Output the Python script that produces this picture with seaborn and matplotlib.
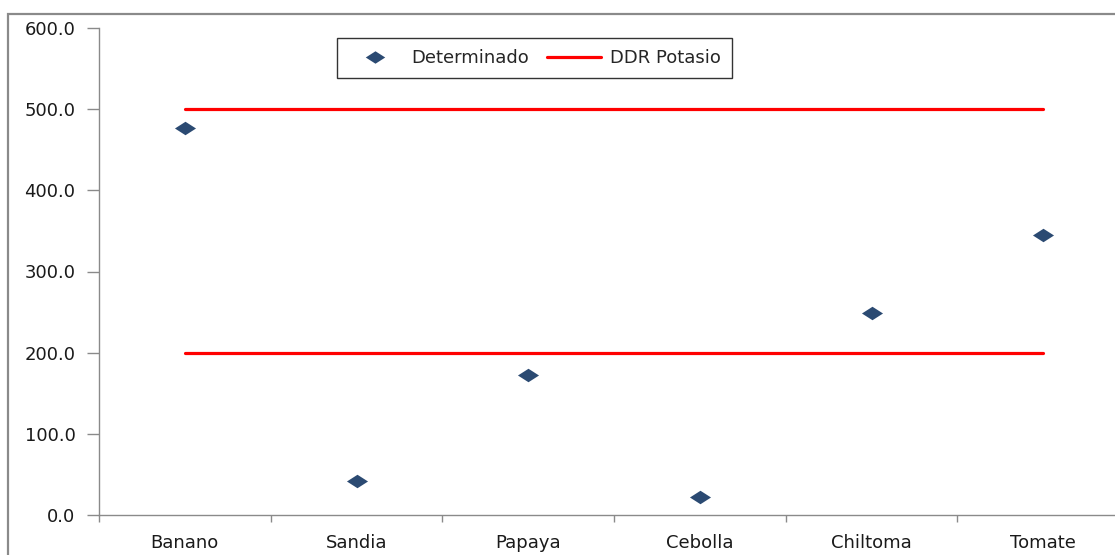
import matplotlib
matplotlib.use("Agg")
import matplotlib.pyplot as plt
import numpy as np
import pandas as pd
import seaborn as sns
from matplotlib.patches import Rectangle
from matplotlib.path import Path
from matplotlib.lines import Line2D

# Potassium content per crop and the recommended daily range (DDR)
cultivos = ["Banano", "Sandia", "Papaya", "Cebolla", "Chiltoma", "Tomate"]
determinado = [476.6, 42.0, 172.4, 22.2, 248.8, 344.8]
ddr_minimo = [200.0, 200.0, 200.0, 200.0, 200.0, 200.0]
ddr_maximo = [500.0, 500.0, 500.0, 500.0, 500.0, 500.0]
y_ticks = [0, 100, 200, 300, 400, 500, 600]

df = pd.DataFrame({"cultivo": cultivos, "determinado": determinado,
                   "ddr_min": ddr_minimo, "ddr_max": ddr_maximo})

sns.set_theme(style="white")
plt.rcParams["font.family"] = ["DejaVu Sans"]

fig = plt.figure(figsize=(11.15, 5.55), dpi=100)
fig.patch.set_facecolor("white")

# outer chart frame
fig.patches.append(Rectangle((8 / 1115, -0.1), 1.2, 1.1 - 14 / 555,
                             transform=fig.transFigure, fill=False,
                             edgecolor="#8a8a8a", linewidth=1.6, zorder=0))

ax = fig.add_axes([99 / 1115, 40 / 555, 1030 / 1115, 487 / 555])
ax.set_facecolor("white")

rojo = "#ff0000"
azul = "#2b4a72"
diamante = Path([(-1.0, 0.0), (0.0, 0.64), (1.0, 0.0), (0.0, -0.64), (-1.0, 0.0)],
                [Path.MOVETO, Path.LINETO, Path.LINETO, Path.LINETO, Path.CLOSEPOLY])

sns.lineplot(data=df, x="cultivo", y="ddr_max", ax=ax, color=rojo,
             linewidth=2.3, legend=False, sort=False)
sns.lineplot(data=df, x="cultivo", y="ddr_min", ax=ax, color=rojo,
             linewidth=2.3, legend=False, sort=False)
sns.scatterplot(data=df, x="cultivo", y="determinado", ax=ax, marker=diamante,
                s=230, color=azul, edgecolor=azul, linewidth=0, legend=False,
                zorder=5)

ax.set_xlim(-0.5, 5.5)
ax.set_ylim(0, 600)
ax.set_yticks(y_ticks)
ax.set_yticklabels([f"{v:.1f}" for v in y_ticks])
ax.set_xlabel("")
ax.set_ylabel("")

# category separators as ticks on the x axis
ax.set_xticks(range(len(cultivos)))
ax.set_xticklabels(cultivos)
ax.set_xticks(np.arange(-0.5, len(cultivos), 1.0), minor=True)
ax.tick_params(axis="x", which="major", length=0, pad=14, labelsize=13,
               labelcolor="#1a1a1a")
ax.tick_params(axis="x", which="minor", length=5, width=1, color="#8a8a8a",
               direction="out", bottom=True)
ax.tick_params(axis="y", length=9, width=1, color="#8a8a8a", direction="out",
               pad=8, labelsize=13, labelcolor="#1a1a1a", left=True)

for side in ["top", "right"]:
    ax.spines[side].set_visible(False)
for side in ["left", "bottom"]:
    ax.spines[side].set_color("#8a8a8a")
    ax.spines[side].set_linewidth(1.0)

handles = [
    Line2D([], [], linestyle="none", marker=diamante, markersize=14,
           color=azul, markeredgewidth=0),
    Line2D([], [], color=rojo, linewidth=2.3),
]
leg = fig.legend(handles, ["Determinado", "DDR Potasio"], ncol=2,
                 loc="upper left", bbox_to_anchor=(337 / 1115, 1 - 38 / 555),
                 bbox_transform=fig.transFigure, frameon=True, fancybox=False,
                 fontsize=13, handlelength=3.0, handletextpad=0.5,
                 columnspacing=1.0, borderpad=0.62, borderaxespad=0)
leg.get_frame().set_edgecolor("#000000")
leg.get_frame().set_linewidth(1.0)

fig.savefig("out.png", dpi=100, facecolor="white")
